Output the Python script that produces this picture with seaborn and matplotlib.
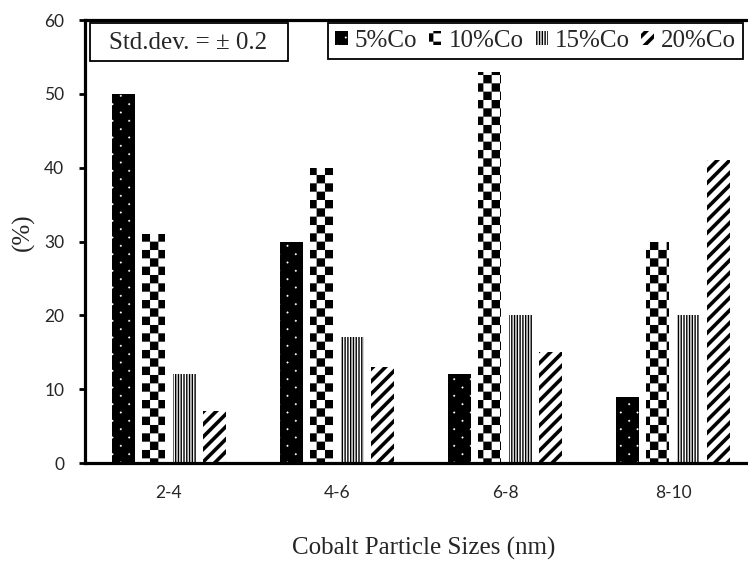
import numpy as np
import pandas as pd
import matplotlib
matplotlib.use("Agg")
import matplotlib.pyplot as plt
import matplotlib.hatch as mhatch
from matplotlib.path import Path
from matplotlib.patches import Rectangle
import seaborn as sns

# ---------------- data ----------------
sizes = ["2-4", "4-6", "6-8", "8-10"]
series = ["5%Co", "10%Co", "15%Co", "20%Co"]
co5 = [50, 30, 12, 9]
co10 = [31, 40, 53, 30]
co15 = [12, 17, 20, 20]
co20 = [7, 13, 15, 41]
yticks = [0, 10, 20, 30, 40, 50, 60]

df = pd.DataFrame({
    "size": sizes * 4,
    "series": np.repeat(series, len(sizes)),
    "pct": co5 + co10 + co15 + co20,
})

# ---------------- custom hatch patterns ----------------
def _poly(pts):
    return list(pts) + [pts[0]], [Path.MOVETO] + [Path.LINETO] * (len(pts) - 1) + [Path.CLOSEPOLY]


class CustomHatch(mhatch.HatchPatternBase):
    def __init__(self, hatch, density):
        verts, codes = [], []
        hatch = hatch or ""
        if "*" in hatch:  # checkerboard
            n = 12
            s = 1.0 / n
            for i in range(n):
                for j in range(n):
                    if (i + j) % 2 == 0:
                        v, c = _poly([(i * s, j * s), ((i + 1) * s, j * s),
                                      ((i + 1) * s, (j + 1) * s), (i * s, (j + 1) * s)])
                        verts += v
                        codes += c
        if "." in hatch:  # staggered small dots
            rows = 12
            cols = 6
            d = 0.012
            for r in range(rows):
                y = (r + 0.5) / rows
                shift = 0.5 / cols if r % 2 else 0.0
                for k in range(cols):
                    x = (k + 0.25) / cols + shift
                    v, c = _poly([(x - d, y), (x, y - d), (x + d, y), (x, y + d)])
                    verts += v
                    codes += c
        if "|" in hatch:  # fine vertical lines
            n = 36
            w = 0.0135
            for k in range(n):
                x = k / n
                v, c = _poly([(x, -0.01), (x + w, -0.01), (x + w, 1.01), (x, 1.01)])
                verts += v
                codes += c
        if "/" in hatch:  # thick diagonal stripes
            n = 8
            w = 0.05
            for k in range(-n - 1, n + 1):
                c0 = k / n
                v, c = _poly([(c0, 0), (c0 + w, 0), (c0 + w + 1, 1), (c0 + 1, 1)])
                verts += v
                codes += c
        self._v = np.array(verts, dtype=float).reshape(-1, 2)
        self._c = np.array(codes, dtype=Path.code_type)
        self.num_vertices = len(self._v)

    def set_vertices_and_codes(self, vertices, codes):
        vertices[:] = self._v
        codes[:] = self._c


mhatch._hatch_types[:] = [CustomHatch]

# ---------------- style ----------------
sns.set_style("ticks")
plt.rcParams["font.family"] = ["Liberation Serif", "DejaVu Serif"]
plt.rcParams["hatch.linewidth"] = 0.05

fig = plt.figure(figsize=(7.48, 5.62), dpi=100)
ax = fig.add_axes([85 / 748, 99 / 562, 672 / 748, 443 / 562])

sns.barplot(data=df, x="size", y="pct", hue="series", order=sizes,
            hue_order=series, width=0.73, gap=0.25, legend=False,
            linewidth=0, ax=ax, errorbar=None)

styles = [
    dict(face="black", hatch_c="white", hatch="."),
    dict(face="white", hatch_c="black", hatch="*"),
    dict(face="white", hatch_c="black", hatch="|"),
    dict(face="white", hatch_c="black", hatch="/"),
]
for cont, st in zip(ax.containers, styles):
    for p in cont.patches:
        p.set_facecolor(st["face"])
        p.set_edgecolor(st["hatch_c"])
        p.set_linewidth(0)
        p.set_hatch(st["hatch"])

ax.set_xlim(-0.5, 3.5)
ax.set_ylim(0, 60)
ax.set_yticks(yticks)
ax.set_yticklabels([str(t) for t in yticks], fontfamily="Lato", fontsize=12.5)
ax.set_xticks(range(len(sizes)))
ax.set_xticklabels(sizes, fontfamily="Lato", fontsize=12.5)
ax.tick_params(axis="y", direction="out", length=4, width=2, pad=11, color="black")
ax.tick_params(axis="x", length=0, pad=16)

for side in ["left", "bottom", "top"]:
    ax.spines[side].set_visible(True)
    ax.spines[side].set_linewidth(2.3)
    ax.spines[side].set_color("black")
ax.spines["right"].set_visible(False)

ax.set_xlabel("Cobalt Particle Sizes (nm)", fontsize=18)
ax.set_ylabel("(%)", fontsize=18)
ax.xaxis.set_label_coords((424 - 85) / 672, -(537 - 463) / 443)
ax.yaxis.set_label_coords((35 - 85) / 672, (463 - 232) / 443)

# legend
leg = ax.legend(ax.containers, series, ncol=4, loc="upper left",
                bbox_to_anchor=(328 / 748, 1 - 23 / 562),
                bbox_transform=fig.transFigure, borderaxespad=0,
                fontsize=18, handlelength=0.5, handleheight=0.5,
                handletextpad=0.3, columnspacing=0.45, borderpad=0.28,
                fancybox=False, framealpha=1, edgecolor="black")
leg.get_frame().set_linewidth(1.3)

# std dev box
fig.add_artist(Rectangle((90 / 748, 1 - 61 / 562), 198 / 748, 38 / 562,
                         transform=fig.transFigure, facecolor="white",
                         edgecolor="black", linewidth=1.3, zorder=5))
fig.text(188 / 748, 1 - 43 / 562, "Std.dev. = \u00b1 0.2", fontsize=18,
         ha="center", va="center", zorder=6)

fig.savefig("out.png", dpi=100)
